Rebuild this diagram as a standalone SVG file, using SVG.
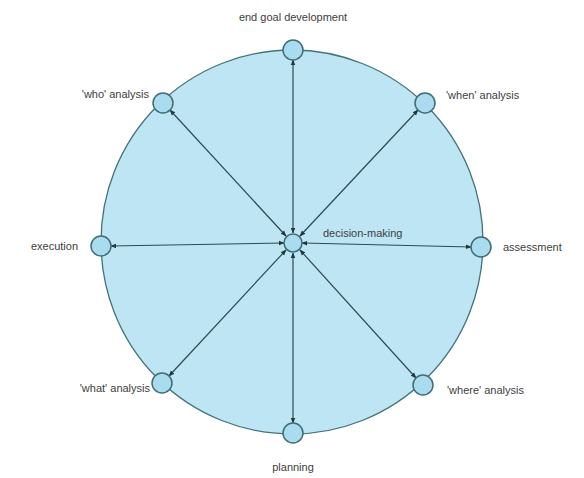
<svg xmlns="http://www.w3.org/2000/svg" width="584" height="478" viewBox="0 0 584 478">
<style>
.node{fill:#a9dcee;stroke:#3f6d74;stroke-width:1.5}
.conn{stroke:#2f4a50;stroke-width:1.2;fill:none;marker-start:url(#ah);marker-end:url(#ah)}
text{font-family:"Liberation Sans",Arial,sans-serif;font-size:11px;fill:#404040}
</style>
<defs>
<marker id="ah" viewBox="0 0 10 10" refX="9" refY="5" markerWidth="6" markerHeight="6" orient="auto-start-reverse" markerUnits="userSpaceOnUse">
<path d="M0,1 L10,5 L0,9 z" fill="#22383c"/>
</marker>
</defs>
<rect width="584" height="478" fill="#ffffff"/>
<ellipse id="ring" cx="292" cy="242" rx="191" ry="192" fill="#bde5f4" stroke="#44727a" stroke-width="1.3"/>
<g id="connectors">
<line class="conn" x1="293" y1="233" x2="293" y2="60"/>
<line class="conn" x1="293" y1="253" x2="293" y2="423"/>
<line class="conn" x1="284" y1="243" x2="111" y2="246"/>
<line class="conn" x1="302" y1="243" x2="471" y2="247"/>
<line class="conn" x1="286" y1="236" x2="170" y2="110"/>
<line class="conn" x1="300" y1="236" x2="418" y2="110"/>
<line class="conn" x1="286" y1="250" x2="169" y2="376"/>
<line class="conn" x1="300" y1="250" x2="416" y2="378"/>
</g>
<g id="decision-making"><circle class="node" cx="293" cy="243" r="9"/><text x="323" y="237">decision-making</text></g>
<g id="end-goal"><circle class="node" cx="293" cy="50" r="10"/><text x="293" y="21" text-anchor="middle">end goal development</text></g>
<g id="planning"><circle class="node" cx="293" cy="433" r="10"/><text x="293" y="471" text-anchor="middle">planning</text></g>
<g id="execution"><circle class="node" cx="101" cy="246" r="10"/><text x="78" y="250" text-anchor="end">execution</text></g>
<g id="assessment"><circle class="node" cx="481" cy="247" r="10"/><text x="503" y="251">assessment</text></g>
<g id="who"><circle class="node" cx="163" cy="103" r="10"/><text x="149" y="98" text-anchor="end">'who' analysis</text></g>
<g id="when"><circle class="node" cx="425" cy="103" r="10"/><text x="446" y="99">'when' analysis</text></g>
<g id="what"><circle class="node" cx="162" cy="383" r="10"/><text x="150" y="392" text-anchor="end">'what' analysis</text></g>
<g id="where"><circle class="node" cx="423" cy="385" r="10"/><text x="447" y="394">'where' analysis</text></g>
</svg>
